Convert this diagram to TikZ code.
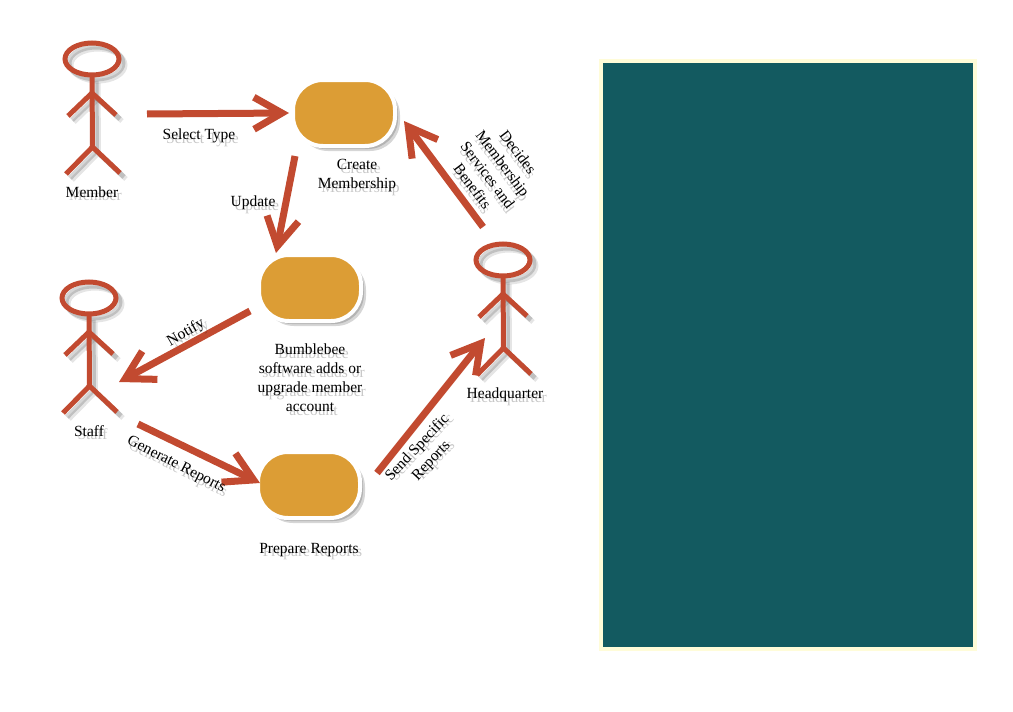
\documentclass[tikz,border=0pt]{standalone}
\usepackage{fontspec}
\setmainfont{Liberation Serif}
\usepackage{xcolor}
\usetikzlibrary{calc, arrows.meta}

\definecolor{arrowred}{HTML}{C24A30}
\definecolor{boxgold}{HTML}{DC9D35}
\definecolor{panelteal}{HTML}{135A60}
\definecolor{panelcream}{HTML}{FFFCD8}

\tikzset{
    flow/.style={draw=arrowred, line width=7pt, {-Straight Barb[length=28pt, width=32pt]}},
    stick/.style={line width=5pt},
    caption/.style={align=center, font=\fontsize{15.5}{19}\selectfont, inner sep=0pt},
    taskbox/.style={rectangle, rounded corners=30pt, minimum width=102pt, minimum height=66pt, fill=boxgold, draw=white, line width=4pt, inner sep=0pt},
    boxshade/.style={rectangle, rounded corners=30pt, minimum width=102pt, minimum height=66pt, fill=black, inner sep=0pt, opacity=0.16}
}

% one text with its soft shadow
\newcommand{\shadowtext}[4][]{%
    \node[caption, #1, text=black, opacity=0.22, xshift=3.5pt, yshift=-5.5pt] (#2-s) at (#3) {#4};
    \node[caption, #1, yshift=-2pt] (#2) at (#3) {#4};
}

% stick figure around the middle of its head
\newcommand{\actorbody}[1]{%
    \draw[stick, #1] (0,0) ellipse [x radius=27, y radius=16];
    \draw[stick, #1] (0,18) -- (0.5,88);
    \draw[stick, #1] (-24,57) -- (0,34) -- (24,56);
    \draw[stick, #1] (-26,115) -- (0.5,88) -- (28,114);
}

\begin{document}
\begin{tikzpicture}[x=1pt, y=-1pt]
    \useasboundingbox (0,0) rectangle (1013,712);
    \fill[white] (0,0) rectangle (1013,712);

    % Draw the panel
    \draw[fill=panelteal, draw=panelcream, line width=4pt] (601,61) rectangle (975,649);

    % Draw the stick figures
    \foreach \x/\y in {92/59, 89/298, 503/260} {
        \begin{scope}[shift={(\x,\y)}]
            \begin{scope}[shift={(4,4)}]
                \actorbody{draw=black, opacity=0.16}
            \end{scope}
            \begin{scope}[shift={(6,6)}]
                \actorbody{draw=black, opacity=0.10}
            \end{scope}
            \actorbody{draw=arrowred}
        \end{scope}
    }

    % Draw the boxes
    \foreach \x/\y/\name in {344/113/create, 310/288/update, 309/485/prepare} {
        \node[boxshade, xshift=3pt, yshift=-3pt] (\name-s1) at (\x,\y) {};
        \node[boxshade, xshift=5pt, yshift=-5pt] (\name-s2) at (\x,\y) {};
        \node[taskbox] (\name) at (\x,\y) {};
    }

    % Free ends at the figures
    \coordinate (memberout) at (147,114);
    \coordinate (staffin) at (119,382);
    \coordinate (staffout) at (138,424);
    \coordinate (hqin) at (485,338);
    \coordinate (hqout) at (483,227);

    % Draw the arrows
    \draw[flow] (memberout) -- ($(create.west)+(-2,0)$);
    \draw[flow] ($(create.south west)+(4,8)$) -- ($(update.north)+(-34,0)$);
    \draw[flow] ($(update.south west)+(-7,-12)$) -- (staffin);
    \draw[flow] (staffout) -- ($(prepare.west)+(4,-2)$);
    \draw[flow] ($(prepare.east)+(15,-12)$) -- (hqin);
    \draw[flow] (hqout) -- ($(create.east)+(7,8)$);

    % Label the figures and boxes
    \shadowtext{memberlabel}{92,190}{Member}
    \shadowtext{stafflabel}{89,429}{Staff}
    \shadowtext{hqlabel}{505,393}{Headquarter}
    \shadowtext{createlabel}{357,174}{Create\\Membership}
    \shadowtext{updatelabel}{310,376}{Bumblebee\\software adds or\\upgrade member\\account}
    \shadowtext{preparelabel}{309,548}{Prepare Reports}

    % Label the arrows
    \shadowtext{selectlabel}{199,134}{Select Type}
    \shadowtext[]{updateflow}{253,201}{Update}
    \shadowtext[rotate=30]{notifylabel}{185,331}{Notify}
    \shadowtext[rotate=-27]{generatelabel}{177,463}{Generate Reports}
    \shadowtext[rotate=47]{sendlabel}{423,453}{Send Specific\\Reports}
    \shadowtext[rotate=-53]{decideslabel}{497,168}{Decides\\Membership\\Services and\\Benefits}

\end{tikzpicture}
\end{document}
